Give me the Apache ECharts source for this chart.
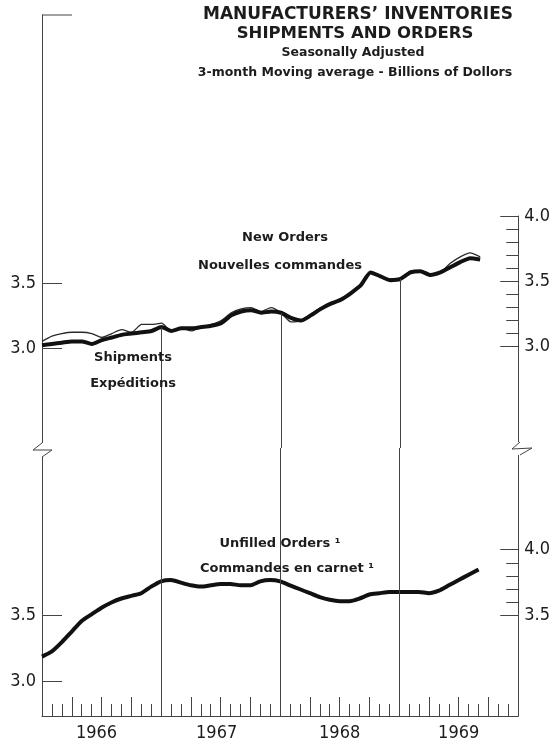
<!DOCTYPE html>
<html>
<head>
<meta charset="utf-8">
<script src="https://cdn.jsdelivr.net/npm/echarts@6/dist/echarts.min.js"></script>
<style>
    html, body { margin: 0; padding: 0; background: #fff; }
    #chart { width: 553px; height: 742px; }
</style>
</head>
<body>
<div id="chart"></div>
<script>
// monthly points from Jan 1966 (index 0), 3-month moving average, billions of dollars
var shipments = [3.02, 3.03, 3.04, 3.05, 3.05, 3.03, 3.06, 3.08, 3.10, 3.11, 3.12, 3.13,
    3.16, 3.13, 3.15, 3.15, 3.16, 3.17, 3.19, 3.25, 3.28, 3.29, 3.27, 3.28,
    3.27, 3.23, 3.21, 3.25, 3.30, 3.34, 3.37, 3.42, 3.48, 3.58, 3.55, 3.52,
    3.53, 3.58, 3.59, 3.56, 3.58, 3.62, 3.66, 3.69, 3.68];
var newOrders = [3.05, 3.09, 3.11, 3.12, 3.12, 3.11, 3.08, 3.11, 3.14, 3.12, 3.18, 3.18,
    3.19, 3.13, 3.15, 3.13, 3.16, 3.18, 3.21, 3.27, 3.30, 3.31, 3.28, 3.31,
    3.27, 3.20, 3.21, 3.26, 3.31, 3.34, 3.38, 3.42, 3.49, 3.58, 3.55, 3.53,
    3.53, 3.59, 3.59, 3.56, 3.58, 3.65, 3.70, 3.73, 3.70];
var unfilledOrders = [3.19, 3.23, 3.30, 3.38, 3.46, 3.51, 3.56, 3.60, 3.63, 3.65, 3.67, 3.72,
    3.76, 3.77, 3.75, 3.73, 3.72, 3.73, 3.74, 3.74, 3.73, 3.73, 3.76, 3.77,
    3.76, 3.73, 3.70, 3.67, 3.64, 3.62, 3.61, 3.61, 3.63, 3.66, 3.67, 3.68,
    3.68, 3.68, 3.68, 3.67, 3.69, 3.73, 3.77, 3.81, 3.85];

var yearLabels = ['1966', '1967', '1968', '1969'];
var yearLabelPos = [5.5, 17.6, 30, 42];
var yearBreaks = [12, 24, 36];
var leftTicks = [3.0, 3.5];
var rightMajorUpper = [3.0, 3.5, 4.0];
var rightMinorUpper = [3.1, 3.2, 3.3, 3.4, 3.6, 3.7, 3.8, 3.9];
var rightMajorLower = [3.5, 4.0];
var rightMinorLower = [3.6, 3.7, 3.8, 3.9];

var upperMin = 2.23, upperMax = 5.56;
var lowerMin = 2.74, lowerMax = 4.77;

var ink = '#1c1c1c';
var axisColor = '#444';
var numFont = '"Liberation Sans Narrow", "DejaVu Sans Condensed", "Roboto", sans-serif';
var textFont = '"DejaVu Sans", sans-serif';

function toPairs(arr) {
    return arr.map(function (v, i) { return [i, v]; });
}

function fmt(v) {
    return Number(v).toFixed(1);
}

function yAxisMajor(grid, pos, min, max, ticks, len) {
    return {
        gridIndex: grid, type: 'value', position: pos, min: min, max: max,
        axisLine: { show: true, onZero: false, lineStyle: { color: axisColor, width: 1 } },
        axisTick: { show: true, inside: true, length: len, customValues: ticks, lineStyle: { color: axisColor } },
        axisLabel: { show: true, customValues: ticks, formatter: fmt, color: ink, fontSize: 18, fontFamily: numFont, margin: 6 },
        splitLine: { show: false }
    };
}

function yAxisMinor(grid, min, max, ticks) {
    return {
        gridIndex: grid, type: 'value', position: 'right', min: min, max: max,
        axisLine: { show: false, onZero: false },
        axisTick: { show: true, inside: true, length: 12, customValues: ticks, lineStyle: { color: axisColor } },
        axisLabel: { show: false },
        splitLine: { show: false }
    };
}

function label(text, x, y, size) {
    return {
        type: 'text', x: x, y: y, z: 100,
        style: { text: text, fill: ink, font: 'bold ' + size + 'px ' + textFont, align: 'center', verticalAlign: 'middle' }
    };
}

var chart = echarts.init(document.getElementById('chart'));

var option = {
    backgroundColor: '#fff',
    animation: false,
    grid: [
        { left: 42, right: 33, top: 15, height: 433 },
        { left: 42, right: 33, top: 216, height: 232 },
        { left: 42, right: 33, top: 448, height: 268 }
    ],
    xAxis: [
        { gridIndex: 0, type: 'value', min: 0, max: 48, show: false },
        { gridIndex: 1, type: 'value', min: 0, max: 48, show: false },
        {
            gridIndex: 2, type: 'value', min: 0, max: 48, interval: 1, position: 'bottom',
            axisLine: { show: true, onZero: false, lineStyle: { color: axisColor, width: 1 } },
            axisTick: { show: true, inside: true, length: 12, lineStyle: { color: axisColor } },
            axisLabel: {
                customValues: yearLabelPos, color: ink, fontSize: 18, fontFamily: numFont, margin: 8,
                formatter: function (v) { return yearLabels[Math.floor(v / 12)]; }
            },
            splitLine: { show: false }
        },
        {
            gridIndex: 2, type: 'value', min: 0, max: 48, interval: 3, position: 'bottom',
            axisLine: { show: false, onZero: false },
            axisTick: { show: true, inside: true, length: 19, lineStyle: { color: axisColor } },
            axisLabel: { show: false },
            splitLine: { show: false }
        }
    ],
    yAxis: [
        yAxisMajor(0, 'left', upperMin, upperMax, leftTicks, 20),
        yAxisMajor(1, 'right', 2.22, 4.0, rightMajorUpper, 18),
        yAxisMinor(1, 2.22, 4.0, rightMinorUpper),
        yAxisMajor(2, 'left', lowerMin, lowerMax, leftTicks, 20),
        yAxisMajor(2, 'right', lowerMin, lowerMax, rightMajorLower, 18),
        yAxisMinor(2, lowerMin, lowerMax, rightMinorLower)
    ],
    series: [
        {
            name: 'New Orders', type: 'line', xAxisIndex: 0, yAxisIndex: 0,
            data: toPairs(newOrders), showSymbol: false, smooth: 0.2, z: 2,
            lineStyle: { color: '#2a2a2a', width: 1.3 }
        },
        {
            name: 'Shipments', type: 'line', xAxisIndex: 0, yAxisIndex: 0,
            data: toPairs(shipments), showSymbol: false, smooth: 0.2, z: 3,
            lineStyle: { color: '#111', width: 4 },
            markLine: {
                silent: true, symbol: 'none', label: { show: false },
                lineStyle: { color: axisColor, width: 1, type: 'solid' },
                data: yearBreaks.map(function (m) {
                    return [{ coord: [m, upperMin] }, { coord: [m, shipments[m]] }];
                })
            }
        },
        {
            name: 'Unfilled Orders', type: 'line', xAxisIndex: 2, yAxisIndex: 3,
            data: toPairs(unfilledOrders), showSymbol: false, smooth: 0.2, z: 3,
            lineStyle: { color: '#111', width: 4 },
            markLine: {
                silent: true, symbol: 'none', label: { show: false },
                lineStyle: { color: axisColor, width: 1, type: 'solid' },
                data: yearBreaks.map(function (m) { return { xAxis: m }; })
            }
        }
    ],
    graphic: [
        // top tick of the left axis
        { type: 'line', z: 100, shape: { x1: 42, y1: 15, x2: 72, y2: 15 }, style: { stroke: axisColor, lineWidth: 1 } },
        // scale breaks
        { type: 'rect', z: 99, shape: { x: 38, y: 443, width: 8, height: 14 }, style: { fill: '#fff' } },
        { type: 'polyline', z: 100, shape: { points: [[42, 443], [33, 450], [52, 450], [42, 457]] }, style: { stroke: axisColor, lineWidth: 1, fill: null } },
        { type: 'rect', z: 99, shape: { x: 516, y: 442, width: 8, height: 13 }, style: { fill: '#fff' } },
        { type: 'polyline', z: 100, shape: { points: [[520, 442], [512, 449], [532, 448], [520, 455]] }, style: { stroke: axisColor, lineWidth: 1, fill: null } },
        // titles
        label('MANUFACTURERS\u2019 INVENTORIES', 358, 15, 17),
        label('SHIPMENTS AND ORDERS', 355, 34, 16.5),
        label('Seasonally Adjusted', 353, 53, 12.5),
        label('3-month Moving average - Billions of Dollors', 355, 73, 12.5),
        // series labels
        label('New Orders', 285, 238, 13),
        label('Nouvelles commandes', 280, 266, 13),
        label('Shipments', 133, 358, 13),
        label('Exp\u00e9ditions', 133, 384, 13),
        label('Unfilled Orders \u00b9', 280, 544, 13),
        label('Commandes en carnet \u00b9', 287, 569, 13)
    ]
};

chart.setOption(option);
</script>
</body>
</html>
